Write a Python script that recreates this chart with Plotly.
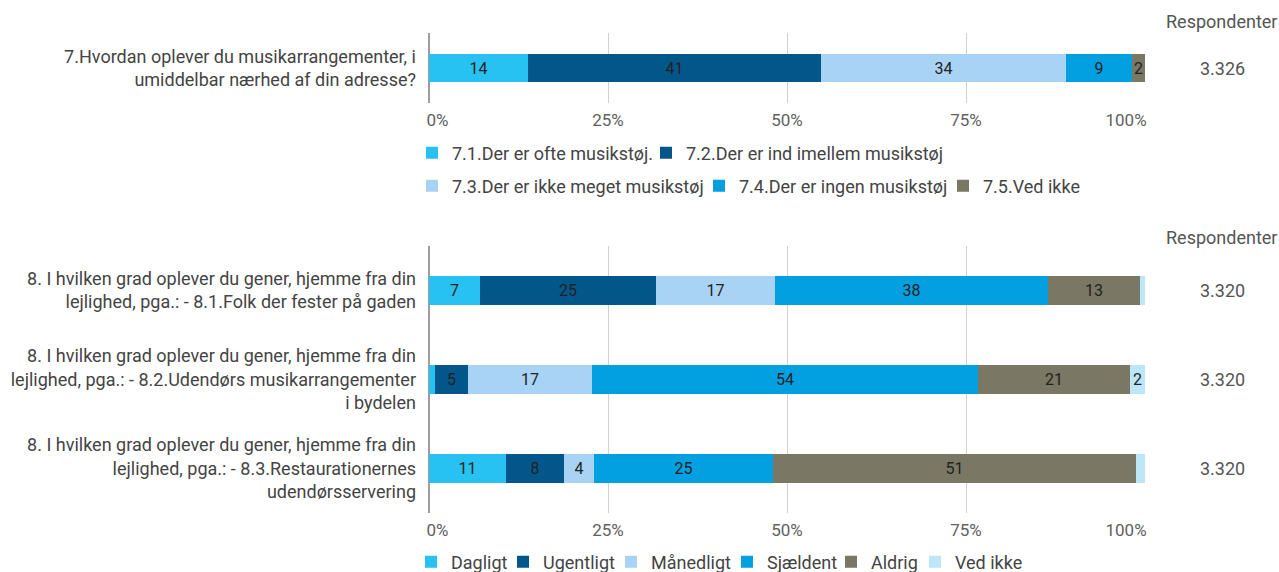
import plotly.graph_objects as go

# ---------------- data ----------------
q7_label = ["7.Hvordan oplever du musikarrangementer, i<br>umiddelbar nærhed af din adresse?"]
q7_series = ["7.1.Der er ofte musikstøj.", "7.2.Der er ind imellem musikstøj",
             "7.3.Der er ikke meget musikstøj", "7.4.Der er ingen musikstøj", "7.5.Ved ikke"]
q7_values = [13.8, 40.9, 34.2, 9.3, 1.8]
q7_respondents = [3326]

q8_labels = [
    "8. I hvilken grad oplever du gener, hjemme fra din<br>lejlighed, pga.: - 8.1.Folk der fester på gaden",
    "8. I hvilken grad oplever du gener, hjemme fra din<br>lejlighed, pga.: - 8.2.Udendørs musikarrangementer<br>i bydelen",
    "8. I hvilken grad oplever du gener, hjemme fra din<br>lejlighed, pga.: - 8.3.Restaurationernes<br>udendørsservering",
]
q8_series = ["Dagligt", "Ugentligt", "Månedligt", "Sjældent", "Aldrig", "Ved ikke"]
q8_dagligt = [7.1, 0.8, 10.8]
q8_ugentligt = [24.6, 4.7, 8.0]
q8_maanedligt = [16.6, 17.2, 4.2]
q8_sjaeldent = [38.2, 54.0, 25.1]
q8_aldrig = [12.8, 21.2, 50.6]
q8_vedikke = [0.7, 2.1, 1.3]
q8_respondents = [3320, 3320, 3320]

x_ticks = [0, 25, 50, 75, 100]
x_ticktext = ["\u00a0\u00a0\u00a0\u00a00%", "25%", "50%", "75%", "100%\u00a0\u00a0\u00a0\u00a0\u00a0\u00a0\u00a0\u00a0\u00a0"]

# ---------------- style ----------------
colors = ["#27C2F1", "#03568A", "#A8D3F5", "#03A0E1", "#7A7764", "#BEE6F9"]
FONT = "Roboto"
W, H = 1279, 572

def lbl(v):
    return f"{round(v)}" if v >= 1.5 else ""

def fmt_n(n):
    return f"{n:,}".replace(",", ".")

fig = go.Figure()

top_legends = ["legend", "legend", "legend2", "legend2", "legend2"]
top_lw = [189, None, 242, 199, None]
for i, (name, v) in enumerate(zip(q7_series, q7_values)):
    fig.add_trace(go.Bar(
        y=q7_label, x=[v], name=name, orientation="h",
        marker=dict(color=colors[i], line=dict(width=0)),
        text=[lbl(v)], textposition="inside", insidetextanchor="middle",
        textangle=0, textfont=dict(family=FONT, size=16, color="#222222"),
        xaxis="x", yaxis="y", width=0.4,
        legend=top_legends[i], legendwidth=top_lw[i],
        hoverinfo="skip",
    ))

q8_vals = [q8_dagligt, q8_ugentligt, q8_maanedligt, q8_sjaeldent, q8_aldrig, q8_vedikke]
bot_lw = [47, 63, 71, 59, 39, None]
for i, (name, vals) in enumerate(zip(q8_series, q8_vals)):
    fig.add_trace(go.Bar(
        y=q8_labels, x=vals, name=name, orientation="h",
        marker=dict(color=colors[i], line=dict(width=0)),
        text=[lbl(v) for v in vals], textposition="inside", insidetextanchor="middle",
        textangle=0, textfont=dict(family=FONT, size=16, color="#222222"),
        xaxis="x2", yaxis="y2", width=0.315,
        legend="legend3", legendwidth=bot_lw[i],
        hoverinfo="skip",
    ))

x0, x1 = 429 / W, 1145 / W
def py(px):
    return 1 - px / H

xaxis_common = dict(
    domain=[x0, x1], range=[0, 100], tickvals=x_ticks, ticktext=x_ticktext,
    showgrid=True, gridcolor="#d0d0d0", gridwidth=1,
    zeroline=True, zerolinecolor="#9e9e9e", zerolinewidth=2,
    showline=False, ticks="", ticklabelstandoff=5, automargin=False,
    tickfont=dict(family=FONT, size=17, color="#616161"), fixedrange=True,
)
yaxis_common = dict(
    type="category", showgrid=False, zeroline=False, showline=False, ticks="",
    ticklabelstandoff=12, automargin=False,
    tickfont=dict(family=FONT, size=18, color="#444444"),
    fixedrange=True,
)

legend_common = dict(
    orientation="h", xanchor="left", yanchor="middle",
    font=dict(family=FONT, size=18, color="#444444"),
    bgcolor="rgba(0,0,0,0)", borderwidth=0, itemclick=False, itemdoubleclick=False,
    traceorder="normal",
)

annotations = []
for yy in [22, 237]:
    annotations.append(dict(text="Respondenter", xref="paper", yref="paper",
                            x=1221 / W, y=py(yy), xanchor="center", yanchor="middle",
                            showarrow=False, font=dict(family=FONT, size=18, color="#555555")))
for cat, n in zip(q7_label, q7_respondents):
    annotations.append(dict(text=fmt_n(n), xref="paper", yref="y", x=1222 / W, y=cat,
                            xanchor="center", yanchor="middle", showarrow=False,
                            font=dict(family=FONT, size=18, color="#555555")))
for cat, n in zip(q8_labels, q8_respondents):
    annotations.append(dict(text=fmt_n(n), xref="paper", yref="y2", x=1222 / W, y=cat,
                            xanchor="center", yanchor="middle", showarrow=False,
                            font=dict(family=FONT, size=18, color="#555555")))

fig.update_layout(
    width=W, height=H, margin=dict(l=0, r=0, t=0, b=0, autoexpand=False),
    paper_bgcolor="white", plot_bgcolor="white",
    barmode="stack", bargap=0,
    font=dict(family=FONT),
    uniformtext=dict(minsize=16, mode="show"),
    xaxis=dict(anchor="y", **xaxis_common),
    yaxis=dict(anchor="x", domain=[py(103), py(33)], **yaxis_common),
    xaxis2=dict(anchor="y2", **xaxis_common),
    yaxis2=dict(anchor="x2", domain=[py(513), py(246)], autorange="reversed", **yaxis_common),
    legend=dict(x=(430 - 18) / W, y=py(153), **legend_common),
    legend2=dict(x=(430 - 18) / W, y=py(186), **legend_common),
    legend3=dict(x=(429 - 18) / W, y=py(562), **legend_common),
    annotations=annotations,
    showlegend=True,
)

fig.write_html(
    "out.html",
    config={"displayModeBar": False},
    post_script="document.body.style.margin='0';document.body.style.overflow='hidden';",
)
